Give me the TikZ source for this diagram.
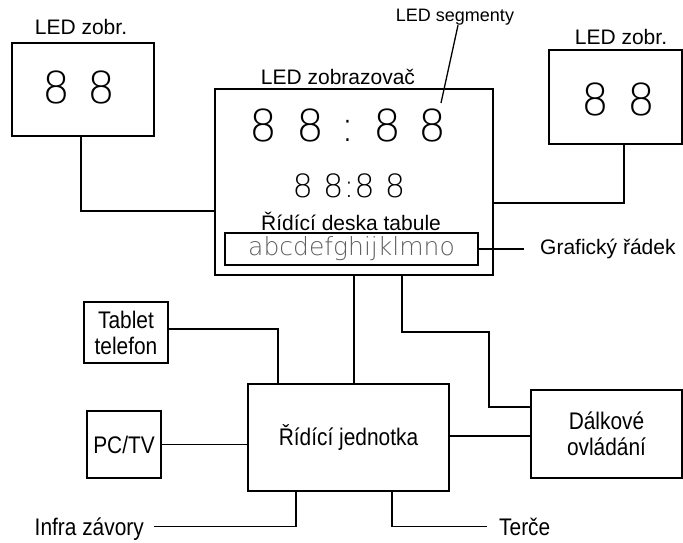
\documentclass[tikz,border=0pt]{standalone}
\usepackage{fontspec}
\setmainfont{Liberation Sans}
\newfontfamily\thinfont{DejaVu Sans ExtraLight}
\newfontfamily\narrowfont[FakeStretch=0.87]{Liberation Sans}
\usepackage{tikz}
\usetikzlibrary{positioning}
\definecolor{rowgray}{RGB}{95,95,95}

\begin{document}
\begin{tikzpicture}[x=1pt, y=-1pt,
    box/.style={draw, line width=1.5pt, inner sep=0pt, align=center,
                font=\narrowfont\fontsize{24}{26}\selectfont},
    lbl/.style={inner sep=0pt, font=\fontsize{21}{24}\selectfont},
    note/.style={inner sep=0pt, text depth=0pt, font=\narrowfont\fontsize{24}{26}\selectfont},
    wire/.style={line width=1.3pt},
    digit/.style={inner sep=0pt, anchor=base,
                  font=\thinfont\fontsize{44}{44}\selectfont}
]
    \useasboundingbox (0,0) rectangle (683,542);

    % Main display
    \node[box, minimum width=278pt, minimum height=186pt] (disp) at (354,182) {};
    \node[lbl] (disptitle) at (338,77) {LED zobrazovač};
    \foreach \x [count=\i] in {263,310,387,432}
        \node[digit] (big\i) at (\x,141) {8};
    \node[digit] (bigcolon) at (348,141) {:};
    \node[digit, font=\thinfont\fontsize{32}{32}\selectfont] (small) at (349,197) {8 8:8 8};
    \node[lbl] (board) at (351,221) {Řídící deska tabule};
    \node[draw, line width=1.5pt, minimum width=253pt, minimum height=32pt,
          text=rowgray, font=\thinfont\fontsize{25}{25}\selectfont] (grow) at (351.5,249) {abcdefghijklmno};

    % Side displays
    \node[box, minimum width=142pt, minimum height=93pt] (left) at (83,89.5) {};
    \node[lbl] (lefttitle) at (81,27) {LED zobr.};
    \node[digit] (left1) at (56,103) {8};
    \node[digit] (left2) at (101,103) {8};
    \node[box, minimum width=133pt, minimum height=94pt] (right) at (615.5,97) {};
    \node[lbl] (righttitle) at (621,37) {LED zobr.};
    \node[digit] (right1) at (595,115) {8};
    \node[digit] (right2) at (641,115) {8};

    % Labels
    \node[lbl, font=\fontsize{18}{22}\selectfont] (seg) at (455,17) {LED segmenty};
    \coordinate (segtip) at (441,103);
    \node[lbl, anchor=west] (graf) at (540,249) {Grafický řádek};

    % Control part
    \node[box, minimum width=201pt, minimum height=107pt] (ctrl) at (348.5,437.5) {Řídící jednotka};
    \node[box, minimum width=84pt, minimum height=61pt] (tablet) at (126,332.5) {Tablet\\telefon};
    \node[box, minimum width=74pt, minimum height=67pt] (pc) at (124,444.5) {PC/TV};
    \node[box, minimum width=151pt, minimum height=88pt] (remote) at (606.5,434) {Dálkové\\ovládání};
    \node[note, anchor=base east] (infra) at (144,535) {Infra závory};
    \node[note, anchor=base west] (terce) at (499,535) {Terče};

    % Connections
    \draw[wire] (seg.south -| 458,0) -- (segtip);
    \draw[wire] (left.south -| 81,0) |- (disp.west |- 0,211);
    \draw[wire] (right.south -| 624,0) |- (disp.east |- 0,203);
    \draw[wire, shorten >=16pt] (grow.east) -- (graf.west);
    \draw[wire] (disp.south -| 354,0) -- (ctrl.north -| 354,0);
    \draw[wire] (disp.south -| 402,0) |- (489,332) |- (remote.west |- 0,407);
    \draw[wire] (tablet.east |- 0,329) -| (ctrl.north -| 278,0);
    \draw[wire] (pc) -- (ctrl.west |- pc);
    \draw[wire] (ctrl.east |- 0,436) -- (remote.west |- 0,436);
    \draw[wire, shorten >=10pt] (ctrl.south -| 296,0) |- (infra.east);
    \draw[wire, shorten >=12pt] (ctrl.south -| 392,0) |- (terce.west);
\end{tikzpicture}
\end{document}
